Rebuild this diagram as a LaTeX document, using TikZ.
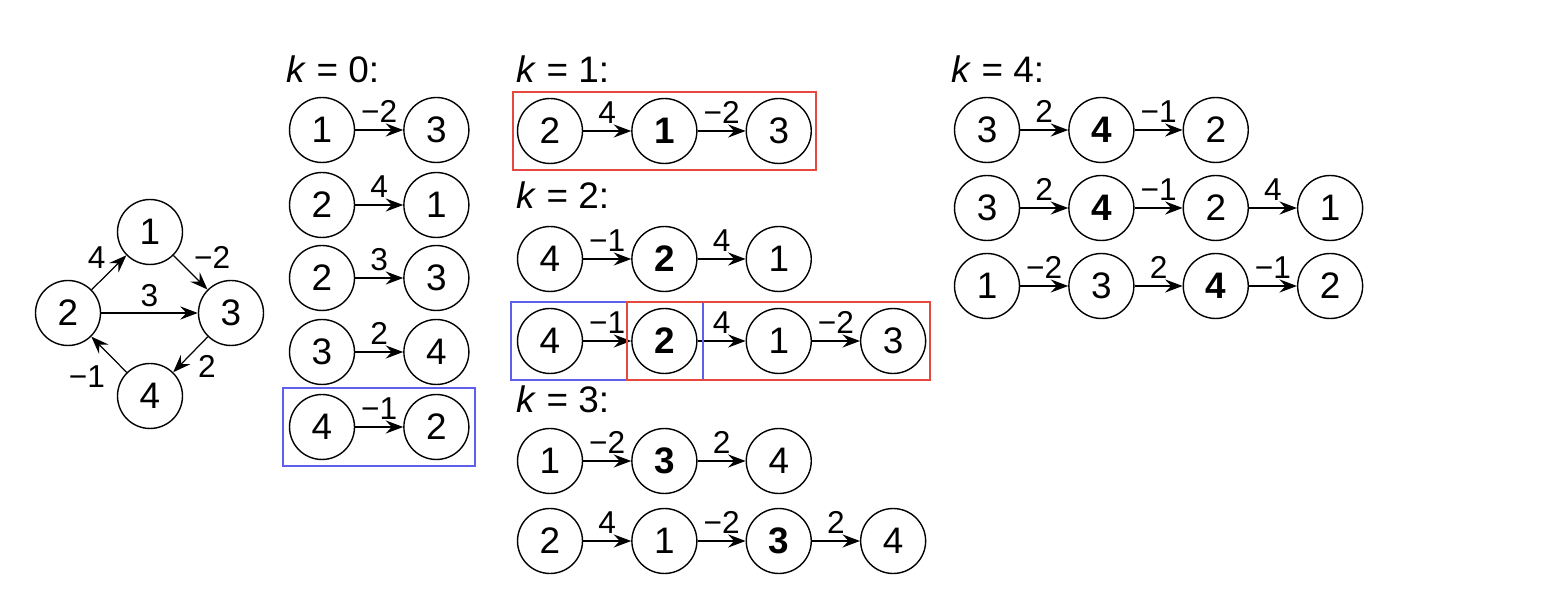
\documentclass[tikz,border=0pt]{standalone}
\usepackage{fontspec}
\setmainfont{Liberation Sans}
\usetikzlibrary{positioning, arrows.meta, fit}
\definecolor{hiRed}{RGB}{228, 72, 62}
\definecolor{hiBlue}{RGB}{95, 95, 235}

\tikzset{
  vtx/.style={draw, circle, line width=0.8pt, minimum size=1.3cm, inner sep=0pt, font=\fontsize{21}{24}\selectfont},
  piv/.style={vtx, font=\fontsize{21}{24}\selectfont\bfseries},
  wt/.style={font=\fontsize{18}{21}\selectfont, inner sep=1pt},
  hdr/.style={anchor=base west, inner sep=0pt, font=\fontsize{21}{24}\selectfont},
  arc/.style={-{Stealth[length=10pt, width=7.5pt, inset=3.5pt]}, line width=0.7pt},
  span/.style={rectangle, inner xsep=2pt, inner ysep=3pt},
  redline/.style={hiRed, line width=1pt},
  blueline/.style={hiBlue, line width=1pt}
}

\begin{document}
\begin{tikzpicture}[x=0.02cm, y=-0.02cm, node distance=0.96cm]
  \useasboundingbox (0,0) rectangle (1556,614);

  % the graph
  \node[vtx] (G1) at (150,232) {1};
  \node[vtx] (G2) at (68,313) {2};
  \node[vtx] (G3) at (231,313) {3};
  \node[vtx] (G4) at (150,396) {4};
  \draw[arc] (G2) -- node[wt, above left=1pt]{4} (G1);
  \draw[arc] (G1) -- node[wt, above right=1pt]{−2} (G3);
  \draw[arc] (G2) -- node[wt, above=2pt]{3} (G3);
  \draw[arc] (G3) -- node[wt, below right=-1pt and 3pt]{2} (G4);
  \draw[arc] (G4) -- node[wt, below left=5pt and 1pt]{−1} (G2);

  % k = 0
  \node[hdr] (H0) at (286,83) {\textit{k} = 0:};
  \node[vtx] (A1) at (322,130) {1};
  \node[vtx, right=of A1] (A1b) {3};
  \draw[arc] (A1) -- node[wt, above=3pt]{−2} (A1b);
  \node[vtx] (A2) at (322,205) {2};
  \node[vtx, right=of A2] (A2b) {1};
  \draw[arc] (A2) -- node[wt, above=3pt]{4} (A2b);
  \node[vtx] (A3) at (322,278) {2};
  \node[vtx, right=of A3] (A3b) {3};
  \draw[arc] (A3) -- node[wt, above=3pt]{3} (A3b);
  \node[vtx] (A4) at (322,352) {3};
  \node[vtx, right=of A4] (A4b) {4};
  \draw[arc] (A4) -- node[wt, above=3pt]{2} (A4b);
  \node[vtx] (A5) at (322,427) {4};
  \node[vtx, right=of A5] (A5b) {2};
  \draw[arc] (A5) -- node[wt, above=3pt]{−1} (A5b);
  \node[span, inner xsep=3pt, fit=(A5) (A5b)] (A5box) {};
  \draw[blueline] (A5box.north west) -- (A5box.north east) -- (A5box.south east) -- (A5box.south west) -- cycle;

  % k = 1
  \node[hdr] (H1) at (516,83) {\textit{k} = 1:};
  \node[vtx] (B1) at (550,131) {2};
  \node[piv, right=of B1] (B1b) {1};
  \node[vtx, right=of B1b] (B1c) {3};
  \draw[arc] (B1) -- node[wt, above=3pt]{4} (B1b);
  \draw[arc] (B1b) -- node[wt, above=3pt]{−2} (B1c);
  \node[span, fit=(B1) (B1c)] (B1box) {};
  \draw[redline] (B1box.north west) -- (B1box.north east) -- (B1box.south east) -- (B1box.south west) -- cycle;

  % k = 2
  \node[hdr] (H2) at (516,209) {\textit{k} = 2:};
  \node[vtx] (C1) at (550,259) {4};
  \node[piv, right=of C1] (C1b) {2};
  \node[vtx, right=of C1b] (C1c) {1};
  \draw[arc] (C1) -- node[wt, above=3pt]{−1} (C1b);
  \draw[arc] (C1b) -- node[wt, above=3pt]{4} (C1c);
  \node[vtx] (C2) at (550,341) {4};
  \node[piv, right=of C2] (C2b) {2};
  \node[vtx, right=of C2b] (C2c) {1};
  \node[vtx, right=of C2c] (C2d) {3};
  \draw[arc] (C2) -- node[wt, above=3pt]{−1} (C2b);
  \draw[arc] (C2b) -- node[wt, above=3pt]{4} (C2c);
  \draw[arc] (C2c) -- node[wt, above=3pt]{−2} (C2d);
  \node[span, inner xsep=3pt, fit=(C2) (C2b)] (C2boxA) {};
  \node[span, fit=(C2b) (C2d)] (C2boxB) {};
  \draw[blueline] (C2boxA.north west) -- (C2boxA.north east) -- (C2boxA.south east) -- (C2boxA.south west) -- cycle;
  \draw[redline] (C2boxB.north west) -- (C2boxB.north east) -- (C2boxB.south east) -- (C2boxB.south west) -- cycle;

  % k = 3
  \node[hdr] (H3) at (516,413) {\textit{k} = 3:};
  \node[vtx] (D1) at (550,461) {1};
  \node[piv, right=of D1] (D1b) {3};
  \node[vtx, right=of D1b] (D1c) {4};
  \draw[arc] (D1) -- node[wt, above=3pt]{−2} (D1b);
  \draw[arc] (D1b) -- node[wt, above=3pt]{2} (D1c);
  \node[vtx] (D2) at (550,541) {2};
  \node[vtx, right=of D2] (D2b) {1};
  \node[piv, right=of D2b] (D2c) {3};
  \node[vtx, right=of D2c] (D2d) {4};
  \draw[arc] (D2) -- node[wt, above=3pt]{4} (D2b);
  \draw[arc] (D2b) -- node[wt, above=3pt]{−2} (D2c);
  \draw[arc] (D2c) -- node[wt, above=3pt]{2} (D2d);

  % k = 4
  \node[hdr] (H4) at (951,83) {\textit{k} = 4:};
  \node[vtx] (E1) at (987,130) {3};
  \node[piv, right=of E1] (E1b) {4};
  \node[vtx, right=of E1b] (E1c) {2};
  \draw[arc] (E1) -- node[wt, above=3pt]{2} (E1b);
  \draw[arc] (E1b) -- node[wt, above=3pt]{−1} (E1c);
  \node[vtx] (E2) at (987,208) {3};
  \node[piv, right=of E2] (E2b) {4};
  \node[vtx, right=of E2b] (E2c) {2};
  \node[vtx, right=of E2c] (E2d) {1};
  \draw[arc] (E2) -- node[wt, above=3pt]{2} (E2b);
  \draw[arc] (E2b) -- node[wt, above=3pt]{−1} (E2c);
  \draw[arc] (E2c) -- node[wt, above=3pt]{4} (E2d);
  \node[vtx] (E3) at (987,286) {1};
  \node[vtx, right=of E3] (E3b) {3};
  \node[piv, right=of E3b] (E3c) {4};
  \node[vtx, right=of E3c] (E3d) {2};
  \draw[arc] (E3) -- node[wt, above=3pt]{−2} (E3b);
  \draw[arc] (E3b) -- node[wt, above=3pt]{2} (E3c);
  \draw[arc] (E3c) -- node[wt, above=3pt]{−1} (E3d);
\end{tikzpicture}
\end{document}
